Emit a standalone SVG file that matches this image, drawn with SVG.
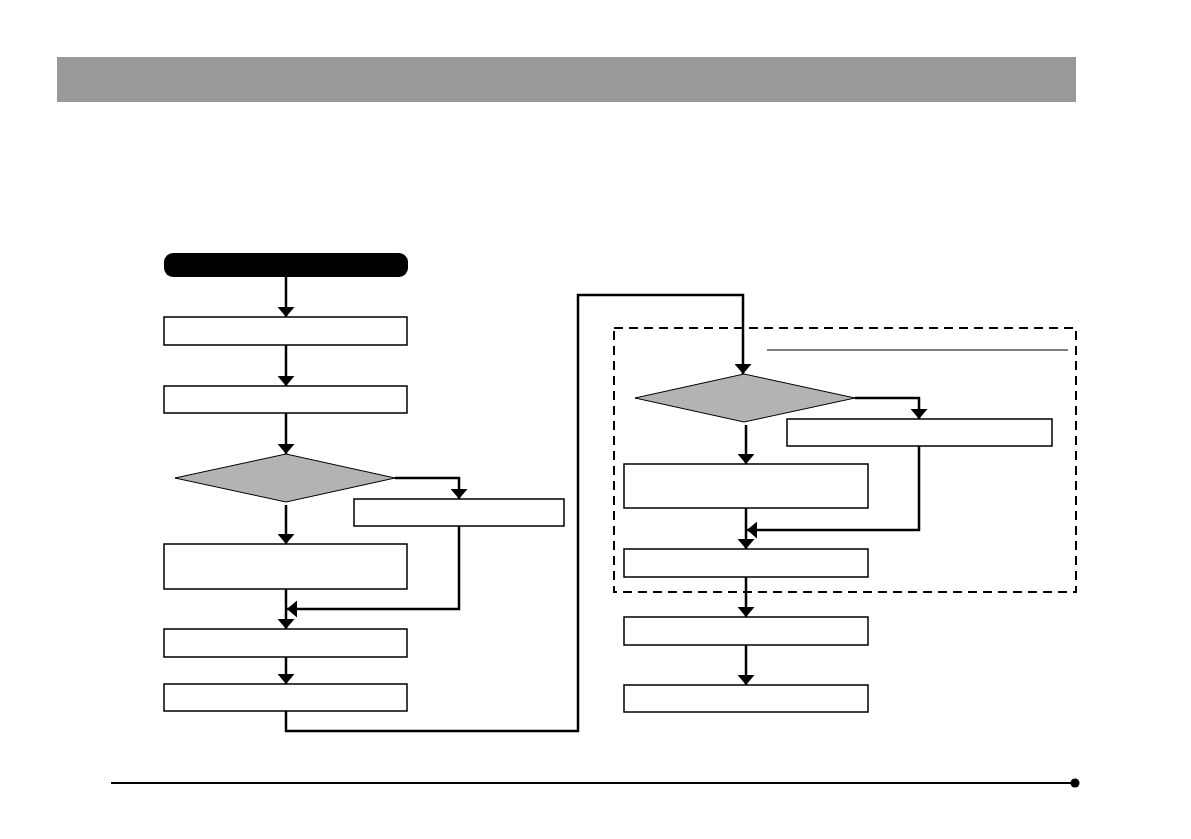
<svg xmlns="http://www.w3.org/2000/svg" width="1191" height="839" viewBox="0 0 1191 839">
<style>
.box{fill:#fff;stroke:#000;stroke-width:1.5}
.dia{fill:#b3b3b3;stroke:#000;stroke-width:1}
.con{fill:none;stroke:#000;stroke-width:2.5;marker-end:url(#ah)}
</style>
<defs>
<marker id="ah" viewBox="0 0 10 17" refX="10" refY="8.5" markerWidth="10" markerHeight="17" markerUnits="userSpaceOnUse" orient="auto">
<path d="M0,0 L10,8.5 L0,17 Z" fill="#000"/>
</marker>
</defs>
<rect width="1191" height="839" fill="#fff"/>
<rect id="header" x="57" y="57" width="1019" height="45" fill="#999"/>
<g id="footer">
<line x1="111" y1="783" x2="1075" y2="783" stroke="#000" stroke-width="2"/>
<circle cx="1075" cy="783" r="4.5" fill="#000"/>
</g>
<g id="group-box">
<rect x="614" y="328" width="462" height="264" fill="none" stroke="#000" stroke-width="2" stroke-dasharray="9,6"/>
<line x1="767" y1="350" x2="1068" y2="350" stroke="#000" stroke-width="1"/>
</g>
<g id="connectors">
<path class="con" d="M286,277 V317"/>
<path class="con" d="M286,345 V386"/>
<path class="con" d="M286,413 V454"/>
<path class="con" d="M395,478 H459 V499"/>
<path class="con" d="M286,505 V544"/>
<path class="con" d="M459,526 V609 H287"/>
<path class="con" d="M286,589 V629"/>
<path class="con" d="M286,657 V684"/>
<path class="con" d="M286,711 V731 H578 V295 H743 V374"/>
<path class="con" d="M855,398 H919 V419"/>
<path class="con" d="M746,425 V464"/>
<path class="con" d="M919,446 V530 H747"/>
<path class="con" d="M746,508 V549"/>
<path class="con" d="M746,577 V617"/>
<path class="con" d="M746,645 V685"/>
</g>
<g id="start"><rect x="164" y="253" width="244" height="24" rx="9" fill="#000"/></g>
<g id="step1"><rect class="box" x="164" y="317" width="243" height="28"/></g>
<g id="step2"><rect class="box" x="164" y="386" width="243" height="27"/></g>
<g id="decision1"><polygon class="dia" points="286,454 395,478 286,502 175,478"/></g>
<g id="side1"><rect class="box" x="354" y="499" width="210" height="27"/></g>
<g id="step3"><rect class="box" x="164" y="544" width="243" height="45"/></g>
<g id="step4"><rect class="box" x="164" y="629" width="243" height="28"/></g>
<g id="step5"><rect class="box" x="164" y="684" width="243" height="27"/></g>
<g id="decision2"><polygon class="dia" points="744,374 855,398 744,422 635,398"/></g>
<g id="side2"><rect class="box" x="787" y="419" width="265" height="27"/></g>
<g id="step6"><rect class="box" x="624" y="464" width="244" height="44"/></g>
<g id="step7"><rect class="box" x="624" y="549" width="244" height="28"/></g>
<g id="step8"><rect class="box" x="624" y="617" width="244" height="28"/></g>
<g id="step9"><rect class="box" x="624" y="685" width="244" height="27"/></g>
</svg>
